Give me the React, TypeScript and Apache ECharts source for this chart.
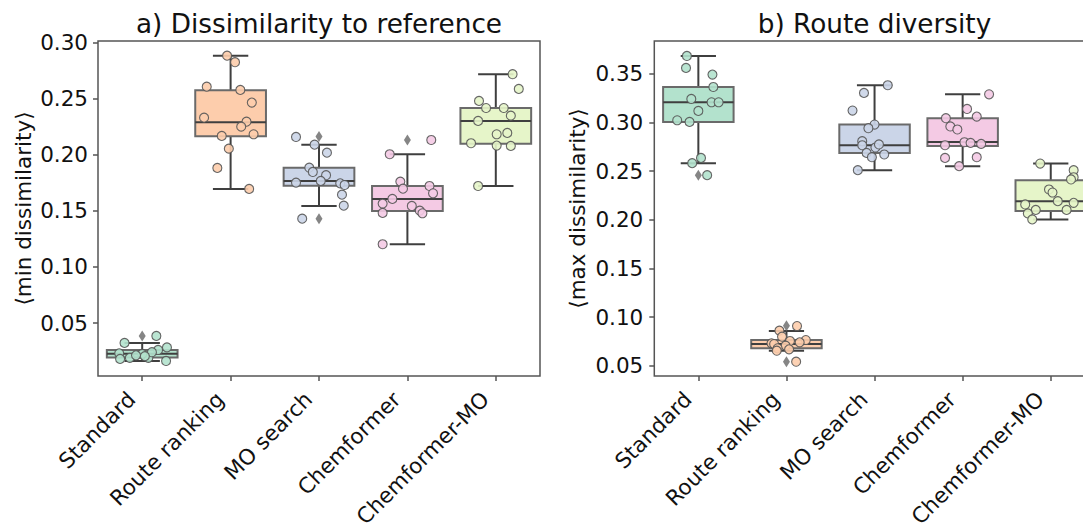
import React, { useEffect, useRef } from 'react';
import * as echarts from 'echarts';

const categories = ['Standard', 'Route ranking', 'MO search', 'Chemformer', 'Chemformer-MO'];
const palette = ['#b3e2cd', '#fdcdac', '#cbd5e8', '#f4cae4', '#e6f5c9'];
const yTicksA = [0.05, 0.1, 0.15, 0.2, 0.25, 0.3];
const yTicksB = [0.05, 0.1, 0.15, 0.2, 0.25, 0.3, 0.35];

// box stats: [lower whisker, Q1, median, Q3, upper whisker]
const boxA = [
  [0.0162, 0.0192, 0.0227, 0.026, 0.0323],
  [0.1695, 0.2164, 0.2289, 0.2574, 0.2882],
  [0.1543, 0.1724, 0.1766, 0.1884, 0.2089],
  [0.1202, 0.1499, 0.1606, 0.1721, 0.2004],
  [0.1721, 0.2098, 0.2301, 0.2416, 0.2717],
];
const fliersA = [[0, 0.0385], [2, 0.2161], [2, 0.143], [3, 0.2131]];
const pointsA = [
  [0.0323, 0.0385, 0.0283, 0.026, 0.023, 0.018, 0.019, 0.019, 0.0162, 0.0225, 0.0212, 0.024, 0.0205],
  [0.2882, 0.2824, 0.2606, 0.2577, 0.2464, 0.233, 0.2294, 0.225, 0.2167, 0.2182, 0.2054, 0.1882, 0.1695],
  [0.2158, 0.2089, 0.2018, 0.1884, 0.1846, 0.1817, 0.1751, 0.1766, 0.1745, 0.173, 0.1644, 0.1546, 0.143],
  [0.2131, 0.2004, 0.176, 0.1697, 0.1721, 0.1656, 0.1606, 0.1564, 0.1543, 0.1501, 0.1478, 0.1481, 0.1202],
  [0.2717, 0.2586, 0.2479, 0.2416, 0.2416, 0.2348, 0.2301, 0.2182, 0.2194, 0.2102, 0.2081, 0.2078, 0.1721],
];
// strip-plot horizontal jitter, in category widths
const jitterA = [
  [-0.2, 0.16, 0.28, 0.18, -0.26, -0.25, -0.14, 0.07, 0.27, 0.0, -0.07, 0.11, 0.03],
  [-0.04, 0.05, -0.27, 0.11, 0.24, -0.3, 0.18, 0.12, -0.1, 0.26, -0.02, -0.15, 0.21],
  [-0.26, -0.05, 0.09, -0.11, -0.07, 0.08, -0.26, 0.02, 0.24, 0.29, 0.26, 0.28, -0.19],
  [0.27, -0.2, -0.08, -0.05, 0.25, 0.29, -0.17, -0.28, 0.05, 0.14, 0.17, -0.28, -0.28],
  [0.19, 0.26, -0.19, -0.11, 0.09, 0.17, -0.2, 0.01, 0.13, -0.28, 0.01, 0.17, -0.2],
];

const boxB = [
  [0.2583, 0.3007, 0.3209, 0.3366, 0.3685],
  [0.0654, 0.0679, 0.0723, 0.0764, 0.0856],
  [0.2511, 0.2688, 0.2767, 0.298, 0.3384],
  [0.2552, 0.276, 0.2801, 0.3045, 0.3291],
  [0.2004, 0.2092, 0.2192, 0.2408, 0.2579],
];
const fliersB = [[0, 0.2459], [1, 0.0911], [1, 0.0541]];
const pointsB = [
  [0.3685, 0.3562, 0.3494, 0.3366, 0.3243, 0.3209, 0.3209, 0.312, 0.3024, 0.3007, 0.2637, 0.2583, 0.2459],
  [0.0908, 0.086, 0.0798, 0.0764, 0.0754, 0.074, 0.073, 0.0723, 0.0706, 0.0679, 0.0668, 0.0654, 0.0541],
  [0.3384, 0.3305, 0.3124, 0.298, 0.2942, 0.2809, 0.2767, 0.2744, 0.2688, 0.2672, 0.2644, 0.2511, 0.2775],
  [0.3291, 0.314, 0.3062, 0.3045, 0.296, 0.2929, 0.2798, 0.2791, 0.2781, 0.2767, 0.2637, 0.2644, 0.2552],
  [0.2579, 0.2511, 0.2438, 0.2415, 0.2312, 0.2281, 0.2192, 0.2175, 0.2158, 0.2102, 0.2102, 0.2066, 0.2004],
];
const jitterB = [
  [-0.13, -0.14, 0.16, 0.17, -0.08, 0.15, 0.23, 0.0, -0.24, -0.1, 0.03, -0.07, 0.1],
  [0.12, -0.08, -0.05, 0.22, 0.04, 0.15, -0.17, -0.14, -0.01, -0.1, 0.03, -0.11, 0.11],
  [0.15, -0.12, -0.25, 0.0, -0.07, -0.14, -0.14, 0.01, -0.09, 0.11, -0.03, -0.19, 0.05],
  [0.3, 0.05, 0.16, -0.19, -0.14, -0.06, 0.02, 0.09, 0.21, -0.2, -0.2, 0.16, -0.04],
  [-0.12, 0.26, 0.26, 0.23, -0.02, 0.02, 0.08, 0.26, -0.29, -0.17, 0.18, -0.26, -0.21],
];

const FONT = 'DejaVu Sans';
const DARK = '#3f3f3f';
const EDGE = '#6a6a6a';
const FRAME = '#555555';

const renderBox = (params: any, api: any) => {
  const idx = api.value(0);
  const low = api.coord([idx, api.value(1)]);
  const q1 = api.coord([idx, api.value(2)]);
  const med = api.coord([idx, api.value(3)]);
  const q3 = api.coord([idx, api.value(4)]);
  const high = api.coord([idx, api.value(5)]);
  const bw = api.size([1, 0])[0] * 0.8;
  const cx = low[0];
  const lw = 2;
  const line = (x1: number, y1: number, x2: number, y2: number, c: string) => ({
    type: 'line',
    shape: { x1, y1, x2, y2 },
    style: { stroke: c, lineWidth: lw },
  });
  return {
    type: 'group',
    children: [
      line(cx, high[1], cx, q3[1], DARK),
      line(cx, q1[1], cx, low[1], DARK),
      line(cx - bw / 4, high[1], cx + bw / 4, high[1], DARK),
      line(cx - bw / 4, low[1], cx + bw / 4, low[1], DARK),
      {
        type: 'rect',
        shape: { x: cx - bw / 2, y: q3[1], width: bw, height: q1[1] - q3[1] },
        style: { fill: palette[idx], stroke: EDGE, lineWidth: lw },
      },
      line(cx - bw / 2, med[1], cx + bw / 2, med[1], DARK),
    ],
  };
};

const boxData = (box: number[][]) => box.map((b, i) => [i, ...b]);
const stripData = (pts: number[][], jit: number[][]) => {
  const out: any[] = [];
  pts.forEach((arr, i) =>
    arr.forEach((v, k) =>
      out.push({
        value: [i + jit[i][k], v],
        itemStyle: { color: palette[i], borderColor: '#555', borderWidth: 1.1, opacity: 0.9 },
      })
    )
  );
  return out;
};

const catAxis = (gridIndex: number) => ({
  type: 'category',
  gridIndex,
  data: categories,
  boundaryGap: true,
  axisLine: { show: false, onZero: false },
  axisTick: { show: true, alignWithLabel: true, length: 5, lineStyle: { color: FRAME, width: 1.5 } },
  axisLabel: {
    rotate: 45, fontSize: 21.5, color: '#111', fontFamily: FONT, margin: 9, interval: 0,
    padding: [0, 15, 0, 0],
  },
  splitLine: { show: false },
});
const hiddenX = (gridIndex: number) => ({
  type: 'value', gridIndex, min: -0.5, max: 4.5, show: false,
  axisLine: { onZero: false },
});
const valAxis = (gridIndex: number, min: number, max: number, ticks: number[], margin: number) => ({
  type: 'value',
  gridIndex,
  min,
  max,
  position: 'left',
  axisLine: { show: false, onZero: false },
  axisTick: { show: true, length: 5, customValues: ticks, lineStyle: { color: FRAME, width: 1.5 } },
  axisLabel: {
    customValues: ticks,
    fontSize: 21.5,
    color: '#111',
    fontFamily: FONT,
    margin,
    formatter: (v: number) => v.toFixed(2),
  },
  splitLine: { show: false },
});

const panelSeries = (gi: number, box: number[][], fliers: number[][], pts: number[][], jit: number[][]) => [
  {
    type: 'custom',
    xAxisIndex: gi * 2,
    yAxisIndex: gi,
    renderItem: renderBox,
    encode: { x: 0, y: [1, 2, 3, 4, 5] },
    data: boxData(box),
    z: 2,
  },
  {
    type: 'scatter',
    xAxisIndex: gi * 2,
    yAxisIndex: gi,
    symbol: 'diamond',
    symbolSize: [7, 11],
    itemStyle: { color: '#666' },
    data: fliers,
    z: 3,
  },
  {
    type: 'scatter',
    xAxisIndex: gi * 2 + 1,
    yAxisIndex: gi,
    symbol: 'circle',
    symbolSize: 9,
    data: stripData(pts, jit),
    z: 4,
  },
];

export default function App() {
  const ref = useRef<HTMLDivElement>(null);
  useEffect(() => {
    const chart = echarts.init(ref.current!, null, { renderer: 'svg' });
    const gridBase = { top: 41, height: 335, show: true, borderColor: FRAME, borderWidth: 1.5, containLabel: false, outerBoundsMode: 'none' };
    const option: any = {
      animation: false,
      backgroundColor: '#fff',
      textStyle: { fontFamily: FONT },
      grid: [
        { ...gridBase, left: 98, width: 442 },
        { ...gridBase, left: 654.3, width: 440.5 },
      ],
      xAxis: [catAxis(0), hiddenX(0), catAxis(1), hiddenX(1)],
      yAxis: [valAxis(0, 0.0028, 0.3013, yTicksA, 10), valAxis(1, 0.0394, 0.3839, yTicksB, 11)],
      series: [
        ...panelSeries(0, boxA, fliersA, pointsA, jitterA),
        ...panelSeries(1, boxB, fliersB, pointsB, jitterB),
      ],
      graphic: [
        {
          type: 'text', x: 319, y: 24,
          style: { text: 'a) Dissimilarity to reference', fontSize: 26.3, fontFamily: FONT, fill: '#111', textAlign: 'center', textVerticalAlign: 'middle' },
        },
        {
          type: 'text', x: 874.5, y: 24,
          style: { text: 'b) Route diversity', fontSize: 26.3, fontFamily: FONT, fill: '#111', textAlign: 'center', textVerticalAlign: 'middle' },
        },
        {
          type: 'text', x: 23, y: 208.5, rotation: Math.PI / 2,
          style: { text: '⟨min dissimilarity⟩', fontSize: 21.5, fontFamily: FONT, fill: '#111', textAlign: 'center', textVerticalAlign: 'middle' },
        },
        {
          type: 'text', x: 577, y: 208.5, rotation: Math.PI / 2,
          style: { text: '⟨max dissimilarity⟩', fontSize: 21.5, fontFamily: FONT, fill: '#111', textAlign: 'center', textVerticalAlign: 'middle' },
        },
      ],
    };
    chart.setOption(option);
    return () => chart.dispose();
  }, []);
  return (
    <div style={{ position: 'fixed', left: 0, top: 0, width: 1083, height: 523, overflow: 'hidden', background: '#fff' }}>
      <div ref={ref} style={{ width: 1110, height: 523 }} />
    </div>
  );
}
